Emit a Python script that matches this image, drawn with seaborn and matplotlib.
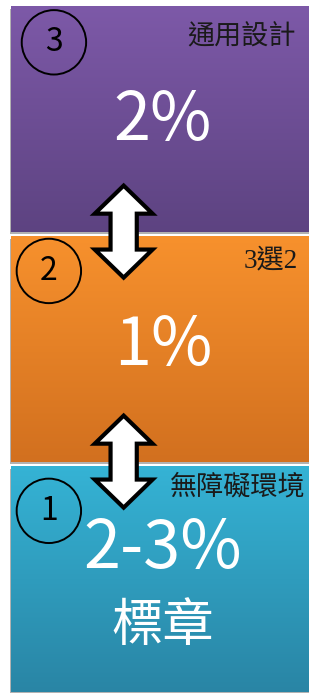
import numpy as np
import pandas as pd
import matplotlib.pyplot as plt
import matplotlib.patheffects as pe
from matplotlib.colors import to_rgb
import seaborn as sns

# tiers, top to bottom
levels = ['3', '2', '1']
fill = [1.05, 1.05, 1.05]
shares = ['2%', '1%', '2-3%']
labels = ['通用設計', '3選2', '無障礙環境']
extra = ['', '', '標章']
top_colors = ['#7d59a8', '#f7912d', '#35b3d5']
bottom_colors = ['#5d4381', '#d2701f', '#2985a5']

sns.set_theme(style='white')
plt.rcParams['font.family'] = ['Noto Sans CJK TC', 'DejaVu Sans']

df = pd.DataFrame({'level': levels, 'fill': fill})

fig = plt.figure(figsize=(3.09, 6.93), dpi=100)
ax = fig.add_axes([0, 0, 1, 1])
sns.barplot(data=df, x='fill', y='level', order=levels, orient='h',
            width=0.98, ax=ax, palette=bottom_colors, hue='level',
            legend=False, linewidth=0)

xlim = (-0.037, 1.0)
ylim = (2.496, -0.517)

for p, c_top, c_bot in zip(ax.patches, top_colors, bottom_colors):
    p.set_path_effects([pe.SimplePatchShadow(offset=(-0.8, -2.0), shadow_rgbFace='0.45', alpha=0.55),
                        pe.Normal()])
    x0, y0 = p.get_x(), p.get_y()
    w, h = p.get_width(), p.get_height()
    t = np.linspace(0, 1, 256)[:, None, None]
    grad = (1 - t) * np.array(to_rgb(c_top)) + t * np.array(to_rgb(c_bot))
    im = ax.imshow(grad, extent=(x0, x0 + w, y0 + h, y0), origin='upper',
                   aspect='auto', zorder=2, interpolation='bilinear')
    im.set_clip_path(p)

ax.set_xlim(*xlim)
ax.set_ylim(*ylim)
ax.axis('off')

# circled numbers
circle_x = [0.144, 0.127, 0.127]
circle_dy = [-0.333, -0.339, -0.296]
label_dy = [-0.359, -0.382, -0.401]
label_x = [0.955, 0.962, 0.988]
for i, lev in enumerate(levels):
    ax.scatter([circle_x[i]], [i + circle_dy[i]], s=2150, facecolors='none',
               edgecolors='black', linewidths=1.4, zorder=5)
    ax.text(circle_x[i], i + circle_dy[i], lev, ha='center', va='center',
            fontsize=23, color='black', zorder=6)
    fam = ['Liberation Serif', 'Noto Sans CJK TC'] if lev == '2' else ['Noto Sans CJK TC', 'DejaVu Sans']
    ax.text(label_x[i], i + label_dy[i], labels[i], ha='right', va='center',
            fontsize=19.5, color='#1a1a1a', family=fam, zorder=6)

share_dy = [0.01, -0.01, -0.127]
for i, s in enumerate(shares):
    ax.text(0.51, i + share_dy[i], s, ha='center', va='center',
            fontsize=48, color='white', zorder=6)
    if extra[i]:
        ax.text(0.51, i + 0.207, extra[i], ha='center', va='center',
                fontsize=37, color='white', zorder=6)


def double_arrow(yc, xc=0.378, half_len=0.2, head_len=0.122, head_w=0.097, shaft_w=0.044):
    xs = [xc, xc + head_w, xc + shaft_w, xc + shaft_w, xc + head_w, xc,
          xc - head_w, xc - shaft_w, xc - shaft_w, xc - head_w]
    ys = [yc - half_len, yc - half_len + head_len, yc - half_len + head_len,
          yc + half_len - head_len, yc + half_len - head_len, yc + half_len,
          yc + half_len - head_len, yc + half_len - head_len,
          yc - half_len + head_len, yc - half_len + head_len]
    ax.fill(xs, ys, facecolor='white', edgecolor='black', linewidth=3,
            joinstyle='miter', zorder=7)


for i in range(len(levels) - 1):
    double_arrow(i + 0.49)

fig.savefig('out.png', dpi=100)
